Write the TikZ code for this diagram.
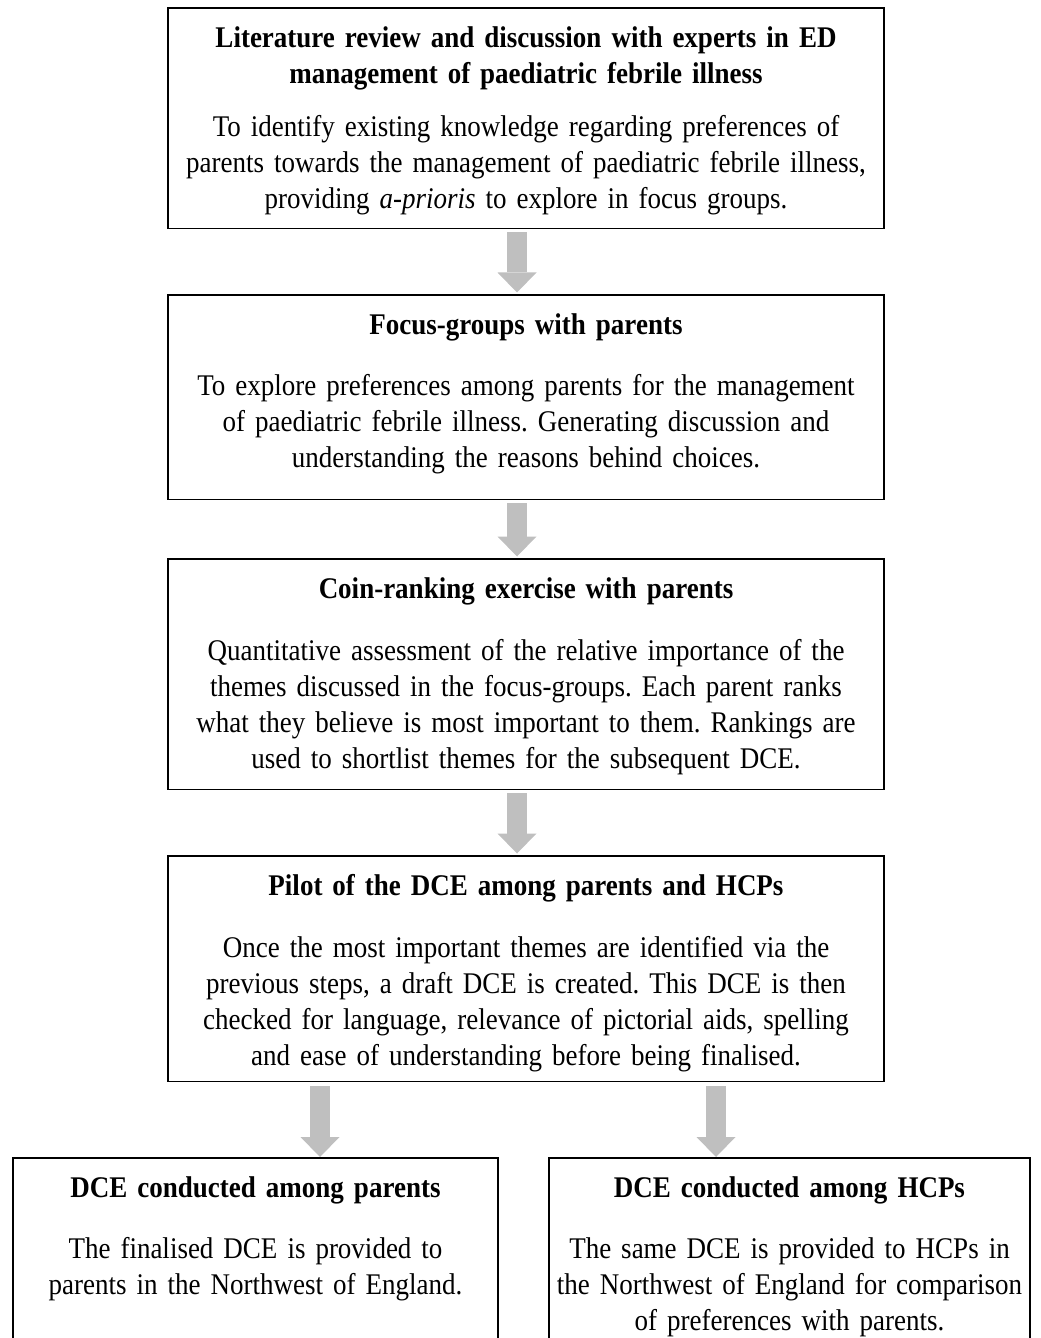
\documentclass[tikz,border=0pt]{standalone}
\usepackage{fontspec}
\setmainfont{Liberation Serif}[FakeStretch=0.9]
\usetikzlibrary{arrows.meta}
\hyphenpenalty=10000
\frenchspacing

\begin{document}
\begin{tikzpicture}[
    x=0.4pt, y=-0.4pt,
    stepbox/.style={
      draw=black,
      line width=0.7pt,
      fill=white,
      anchor=north,
      align=center,
      inner xsep=2pt,
      inner ysep=4pt,
      text width=282.4pt,
      text height=12pt,
      font=\fontsize{12}{14.4}\selectfont
    },
    endbox/.style={
      stepbox,
      text width=190pt
    },
    flow/.style={
      line width=7.8pt,
      draw=black!25,
      -{Triangle[width=15.6pt,length=8pt,line width=0pt]},
      shorten <=1.2pt,
      shorten >=0.6pt
    }
  ]
    \useasboundingbox (0,0) rectangle (1040,1338);

    \node[stepbox, text depth=68.2pt] (lit) at (526,7) {\textbf{Literature review and discussion with experts in ED}\\\textbf{management of paediatric febrile illness}\\[6.8pt]To identify existing knowledge regarding preferences of\\parents towards the management of paediatric febrile illness,\\providing \textit{a-prioris} to explore in focus groups.};
    \node[stepbox, text depth=61.8pt] (focus) at (526,294) {\textbf{Focus-groups with parents}\\[10pt]To explore preferences among parents for the management\\of paediatric febrile illness. Generating discussion and\\understanding the reasons behind choices.};
    \node[stepbox, text depth=72.2pt] (coin) at (526,558) {\textbf{Coin-ranking exercise with parents}\\[10.4pt]Quantitative assessment of the relative importance of the\\themes discussed in the focus-groups. Each parent ranks\\what they believe is most important to them. Rankings are\\used to shortlist themes for the subsequent DCE.};
    \node[stepbox, text depth=70.2pt] (pilot) at (526,855) {\textbf{Pilot of the DCE among parents and HCPs}\\[10.4pt]Once the most important themes are identified via the\\previous steps, a draft DCE is created. This DCE is then\\checked for language, relevance of pictorial aids, spelling\\and ease of understanding before being finalised.};

    \node[endbox, text depth=54.6pt] (parents) at (255.5,1157) {\textbf{DCE conducted among parents}\\[10pt]The finalised DCE is provided to\\parents in the Northwest of England.};
    \node[endbox, text width=188.4pt, text depth=54.6pt] (hcps) at (789.5,1157) {\textbf{DCE conducted among HCPs}\\[10pt]The same DCE is provided to HCPs in\\the Northwest of England for comparison\\of preferences with parents.};

    \draw[flow] ([xshift=-3.6pt]lit.south) -- ([xshift=-3.6pt]focus.north);
    \draw[flow] ([xshift=-3.6pt]focus.south) -- ([xshift=-3.6pt]coin.north);
    \draw[flow] ([xshift=-3.6pt]coin.south) -- ([xshift=-3.6pt]pilot.north);
    \draw[flow, shorten <=1.6pt, shorten >=0pt] ([xshift=-82.4pt]pilot.south) -- ([xshift=-82.4pt]pilot.south |- parents.north);
    \draw[flow, shorten <=1.6pt, shorten >=0pt] ([xshift=76pt]pilot.south) -- ([xshift=76pt]pilot.south |- hcps.north);
  \end{tikzpicture}
\end{document}
